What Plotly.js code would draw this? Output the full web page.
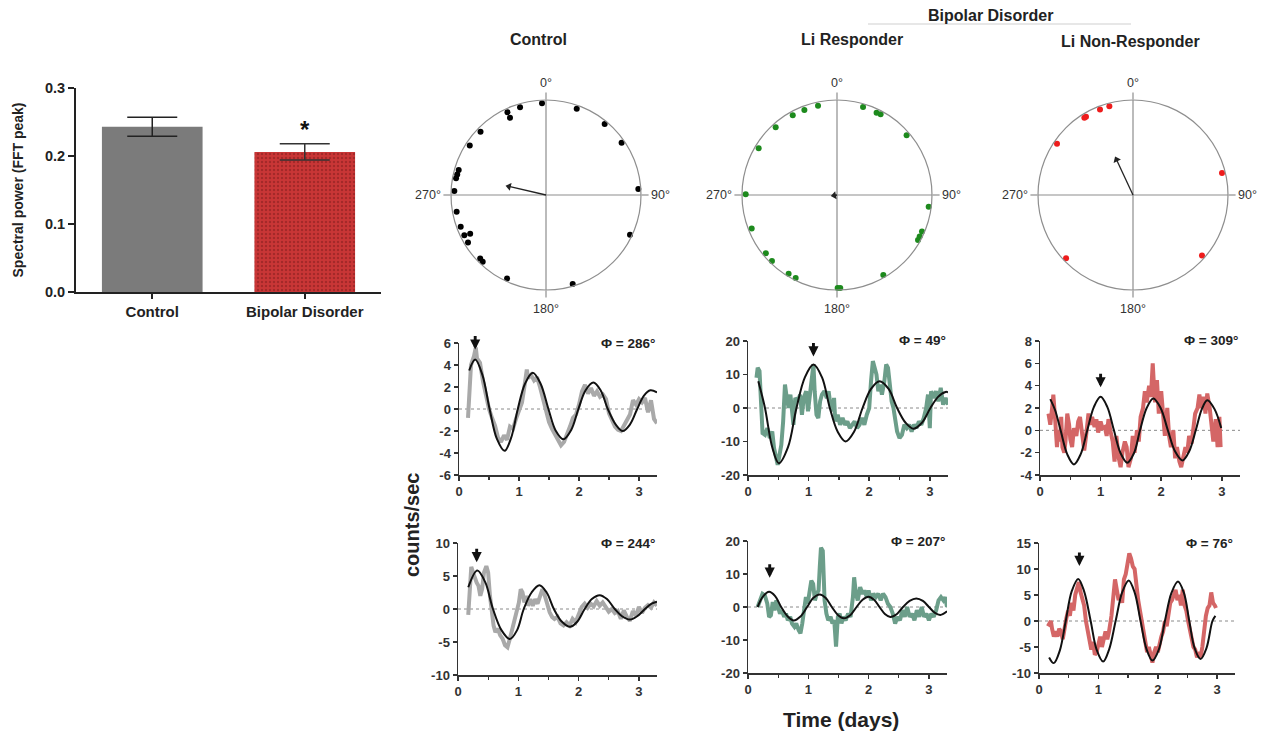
<!DOCTYPE html>
<html><head><meta charset="utf-8">
<script src="https://cdn.plot.ly/plotly-3.0.1.min.js"></script>
<style>html,body{margin:0;padding:0;background:#fff}#chart{width:1265px;height:735px}</style>
</head><body><div id="chart"></div>
<script>
// ================= DATA =================
// Bar chart
const barCategories = ['Control', 'Bipolar Disorder'];
const barValues = [0.243, 0.206];
const barErrors = [0.014, 0.012];
const barTickVals = [0, 0.1, 0.2, 0.3];
const barTickText = ['0.0', '0.1', '0.2', '0.3'];

// Polar phase plots (degrees, 0 = top, clockwise)
const ctrlTheta = [357.5,343.5,335,335,314,303,286,283,280.5,272.5,259.4,249.6,243.7,243,238.6,226,223.5,205,163.3,115.3,86.3,55.3,39.6,19.6];
const ctrlR = [0.966,0.962,0.96,0.897,0.958,0.957,0.956,0.959,0.963,0.966,0.957,0.958,0.959,0.896,0.962,0.963,0.968,0.97,0.978,0.978,0.974,0.968,0.969,0.964];
const liRespTheta = [348,339,331,317.8,300.8,270.4,248.5,230.7,224.6,211.6,206.5,179.6,178,149.9,119,116.7,113.3,97.3,49.4,28.4,25.7,16.5];
const liRespR = [0.961,0.958,0.961,0.961,0.96,0.961,0.965,0.968,0.975,0.972,0.975,0.979,0.979,0.972,0.975,0.974,0.974,0.973,0.965,0.965,0.961,0.965];
const nonRespTheta = [345.1,338.9,329,327.8,304,226.6,131.2,76.1];
const nonRespR = [0.968,0.965,0.961,0.961,0.965,0.97,0.965,0.965];
const meanAngles = [283, 260, 335];
const meanLengths = [0.40, 0.03, 0.41];
const polarTickVals = [0, 90, 180, 270];
const polarTickText = ['0°', '90°', '180°', '270°'];

// Time series (days, counts/sec)
const ctrlTopT = [0.15,0.20,0.25,0.28,0.30,0.35,0.40,0.45,0.50,0.55,0.60,0.65,0.70,0.75,0.80,0.85,0.90,0.95,1.00,1.05,1.10,1.13,1.15,1.20,1.25,1.30,1.35,1.40,1.45,1.50,1.55,1.60,1.65,1.70,1.75,1.80,1.85,1.90,1.95,2.00,2.05,2.10,2.15,2.20,2.25,2.30,2.35,2.40,2.45,2.50,2.55,2.60,2.65,2.70,2.75,2.80,2.85,2.90,2.95,3.00,3.05,3.10,3.15,3.20,3.25,3.30];
const ctrlTopRaw = [-0.8,4.0,4.8,5.6,4.6,4.2,2.5,1.0,0.0,-0.8,-1.5,-2.6,-3.0,-2.4,-2.8,-1.6,-1.8,-0.9,-0.2,0.6,2.4,3.6,2.8,3.1,2.6,2.9,2.0,1.0,0.0,-1.2,-1.8,-2.3,-2.9,-3.3,-3.0,-2.4,-1.6,-0.8,-0.5,0.4,1.6,2.2,1.4,1.9,1.2,1.6,1.1,1.3,0.9,-0.4,-1.0,-1.6,-1.9,-2.0,-1.5,-1.0,-0.5,0.8,0.4,0.9,0.6,1.0,-0.3,0.8,-0.9,-1.3];
const ctrlTopFitT = [0.17,0.27,0.39,0.51,0.63,0.76,0.87,0.98,1.10,1.23,1.36,1.49,1.61,1.74,1.87,1.99,2.11,2.24,2.36,2.48,2.61,2.73,2.85,2.97,3.08,3.19,3.30];
const ctrlTopFit = [3.5,4.5,3.1,0,-2.7,-3.8,-2.6,0,2.3,3.3,2.3,0,-1.95,-2.75,-1.9,0,1.7,2.4,1.7,0,-1.4,-2.0,-1.4,0,1.2,1.7,1.5];

const liTopT = [0.14,0.16,0.19,0.21,0.24,0.28,0.32,0.36,0.40,0.43,0.46,0.49,0.52,0.55,0.58,0.61,0.64,0.67,0.70,0.73,0.75,0.78,0.82,0.86,0.89,0.92,0.96,0.99,1.02,1.05,1.08,1.10,1.13,1.16,1.19,1.22,1.26,1.30,1.33,1.36,1.39,1.42,1.44,1.48,1.52,1.56,1.60,1.64,1.68,1.72,1.76,1.80,1.84,1.88,1.92,1.96,2.00,2.03,2.06,2.09,2.12,2.15,2.18,2.21,2.25,2.28,2.31,2.34,2.37,2.40,2.43,2.46,2.50,2.54,2.58,2.62,2.66,2.70,2.74,2.78,2.82,2.86,2.90,2.94,2.97,3.00,3.02,3.06,3.10,3.14,3.18,3.22,3.26,3.30];
const liTopRaw = [9,12,11,3,-7.5,-8,-6,-9,-7,-12,-15,-17,-14,-11,-4,7,3,0,4,-1,-5,3,2,4,-2,3,5,-1,4,9,13,5,-2,-3,2,4,5,3,5,1,-1,3,-4,-2,-5,-3,-5,-4,-6,-5,-4,-6,-5,-3,-5,-2,0,8,14,12,10,5,7,4,8,13,12,7,2,0,-4,-7,-9,-8,-5,-6,-5,-7,-5,-6,-4,-5,-3,0,4,-6,5,3,5,2,6,1,3,1];
const liTopFitT = [0.17,0.28,0.40,0.51,0.66,0.80,0.94,1.08,1.22,1.35,1.48,1.61,1.75,1.89,2.03,2.17,2.32,2.46,2.60,2.73,2.87,3.01,3.14,3.26,3.30];
const liTopFit = [8,0,-11.7,-16.5,-11.7,0,9.2,13,9.2,0,-7.1,-10,-7.1,0,5.7,8,5.7,0,-4.4,-6.2,-4.4,0,3.4,4.8,4.7];

const nrTopT = [0.14,0.17,0.20,0.22,0.25,0.28,0.30,0.33,0.35,0.37,0.40,0.42,0.45,0.48,0.50,0.53,0.56,0.60,0.63,0.66,0.70,0.73,0.76,0.80,0.83,0.86,0.90,0.93,0.96,1.00,1.03,1.07,1.10,1.13,1.16,1.20,1.23,1.26,1.30,1.33,1.36,1.40,1.43,1.46,1.50,1.53,1.56,1.60,1.63,1.66,1.70,1.73,1.76,1.80,1.83,1.86,1.88,1.90,1.93,1.96,2.00,2.03,2.06,2.10,2.13,2.16,2.20,2.23,2.26,2.30,2.33,2.36,2.40,2.43,2.46,2.50,2.53,2.56,2.60,2.63,2.66,2.70,2.73,2.76,2.80,2.83,2.86,2.90,2.93,2.96,2.98];
const nrTopRaw = [1.5,0.5,2.0,3.2,1.0,-1.5,0.0,-1.0,1.2,-1.5,-2.0,-1.0,1.5,0.5,-0.8,-1.5,0.2,-0.5,0.8,1.2,-0.5,-1.8,-0.5,1.5,0.5,1.2,0.3,1.0,-0.2,0.8,0.2,0.3,-0.5,1.0,0.0,-1.0,-2.8,-0.5,-2.5,-3.3,-2.0,-1.0,-1.5,-3.3,-2.5,-0.5,-2.0,0.0,-1.0,1.2,2.0,3.5,2.5,4.0,3.0,6.0,4.0,2.5,4.5,1.5,3.5,1.0,-0.5,2.0,-0.5,-1.5,0.0,-2.5,-1.5,-2.8,-3.3,-2.5,-1.5,-2.0,-0.5,-1.2,0.3,1.5,2.0,3.2,2.0,3.0,1.5,3.3,2.0,0.5,-1.0,1.0,-1.5,1.2,-1.5];
const nrTopFitT = [0.17,0.25,0.34,0.45,0.56,0.67,0.78,0.89,1.00,1.11,1.22,1.33,1.44,1.55,1.65,1.76,1.87,1.99,2.11,2.23,2.35,2.46,2.57,2.67,2.76,2.88,2.99];
const nrTopFit = [2.8,1.8,0,-2.15,-3.05,-2.15,0,2.1,3.0,2.1,0,-2.05,-2.9,-2.05,0,2.0,2.85,2.0,0,-1.9,-2.7,-1.9,0,1.9,2.7,1.9,0.2];

const ctrlBotT = [0.17,0.19,0.22,0.25,0.28,0.31,0.34,0.37,0.40,0.43,0.47,0.50,0.53,0.56,0.59,0.62,0.66,0.70,0.74,0.78,0.82,0.86,0.90,0.94,0.98,1.01,1.04,1.07,1.10,1.13,1.16,1.20,1.24,1.28,1.32,1.36,1.40,1.44,1.48,1.52,1.56,1.60,1.65,1.70,1.75,1.80,1.85,1.90,1.95,2.00,2.05,2.10,2.15,2.20,2.25,2.30,2.35,2.40,2.45,2.50,2.55,2.60,2.65,2.70,2.75,2.80,2.85,2.90,2.95,3.00,3.05,3.10,3.15,3.20,3.25,3.30];
const ctrlBotRaw = [-0.9,3,6.4,5.5,4.5,4,3.5,2,3,5.5,6.5,5.5,2,-1,-2.5,-3.5,-3,-4,-4.5,-5.5,-5.8,-4.5,-3,-1.5,-0.5,1,3,2.5,1,2,0.5,1.5,0.5,1.5,0.8,2,3,2,0.5,-0.5,-1.2,-1.5,-1.2,-2.2,-2.5,-2,-2.5,-1.5,-2,-1,0.3,0.8,0.2,0.8,0.4,1.2,0.5,1.0,0.2,-0.4,0,-0.6,-0.3,-1.5,-0.2,-1.2,-1.8,-0.3,-1,0.3,-0.6,0.2,0.6,0.2,1.0,0.5];
const ctrlBotFitT = [0.17,0.32,0.45,0.58,0.72,0.86,0.98,1.09,1.22,1.35,1.47,1.59,1.72,1.86,1.98,2.10,2.22,2.35,2.47,2.60,2.72,2.85,2.97,3.10,3.21,3.30];
const ctrlBotFit = [3.3,5.85,4.1,0,-3.2,-4.55,-3.2,0,2.5,3.6,2.5,0,-1.9,-2.7,-1.9,0,1.5,2.1,1.5,0,-1.1,-1.6,-1.1,0,0.8,1.1];

const liBotT = [0.16,0.20,0.24,0.28,0.32,0.35,0.38,0.41,0.44,0.47,0.50,0.53,0.56,0.60,0.63,0.66,0.70,0.73,0.77,0.80,0.84,0.87,0.90,0.93,0.96,0.99,1.02,1.05,1.08,1.11,1.14,1.17,1.19,1.21,1.24,1.27,1.30,1.33,1.37,1.40,1.43,1.46,1.49,1.52,1.55,1.58,1.62,1.66,1.70,1.74,1.76,1.79,1.82,1.86,1.90,1.93,1.97,2.00,2.04,2.08,2.12,2.16,2.20,2.24,2.28,2.32,2.36,2.40,2.44,2.48,2.52,2.56,2.60,2.64,2.68,2.72,2.76,2.80,2.84,2.88,2.92,2.96,3.00,3.04,3.08,3.12,3.16,3.20,3.24,3.27,3.30];
const liBotRaw = [0,2.5,4,3.5,1,-3,-2.5,1.5,-1,2,0,-2,-1,-3,-2,-4,-3,-5,-6,-5,-7,-8,-5,0,3,1,4,8,7,2,4,5,12,18,17,2,-2,-4,-3,-5,-4,-12,-3,-2,-5,-3,-4,-2,-3,3,9,4,2,6,4,5,3,5,2,4,3,4,2,4,3,1,0,-2,-5,-3,-4,-1,-3,0,-3,-2,-4,-1,-3,0,-3,-2,-4,-2,-3,-1,2,3,2,3,0];
const liBotFitT = [0.16,0.25,0.35,0.45,0.55,0.66,0.76,0.87,0.98,1.08,1.19,1.29,1.39,1.49,1.59,1.70,1.80,1.90,2.00,2.09,2.18,2.27,2.36,2.47,2.57,2.68,2.79,2.90,3.00,3.10,3.19,3.30];
const liBotFit = [0,3.2,4.6,3.3,0,-2.9,-4.1,-2.9,0,2.7,3.8,2.7,0,-2.4,-3.4,-2.4,0,2.2,3.1,2.2,0,-2.1,-3.0,-2.1,0,1.85,2.6,1.85,0,-1.8,-2.4,-1.3];

const nrBotT = [0.15,0.18,0.20,0.22,0.25,0.28,0.31,0.34,0.37,0.40,0.43,0.46,0.49,0.52,0.55,0.58,0.61,0.64,0.67,0.70,0.73,0.76,0.79,0.82,0.85,0.88,0.91,0.94,0.97,1.00,1.03,1.06,1.09,1.12,1.15,1.18,1.22,1.25,1.28,1.31,1.34,1.37,1.40,1.43,1.46,1.49,1.52,1.55,1.58,1.61,1.64,1.67,1.70,1.73,1.76,1.79,1.82,1.85,1.88,1.91,1.94,1.97,2.00,2.03,2.06,2.09,2.12,2.15,2.18,2.21,2.24,2.27,2.30,2.33,2.36,2.39,2.42,2.45,2.48,2.51,2.54,2.57,2.60,2.63,2.66,2.69,2.72,2.75,2.78,2.81,2.84,2.87,2.90,2.93,2.96,2.98];
const nrBotRaw = [-1,-0.5,0,-1.5,-3,-2,-3,-1.5,-2,-3.5,-1,0.5,2,1,3.5,2,5,6.5,7.5,5.5,4,3,0,-2,-3,-5.5,-4,-6.5,-6,-4,-3,-5,-3.5,-2,-3.5,-2,1,5,8,6,4,5,3.5,8,9,11,13,12,10.5,10,6,4,2,0,-3,-5,-6,-5,-7,-8,-6,-5,-6,-4,-3,-2,0,-1,2,3.5,4,5,6,4,5,3,6,3,2,0,-2,-4,-5,-5.5,-7,-6,-7,-5,-1,1,2.5,3,5.5,3.5,3,2.5];
const nrBotFitT = [0.17,0.25,0.35,0.45,0.55,0.66,0.76,0.87,0.97,1.08,1.18,1.29,1.40,1.51,1.61,1.71,1.81,1.91,2.02,2.12,2.23,2.34,2.44,2.53,2.62,2.72,2.82,2.92,2.97];
const nrBotFit = [-7,-8.1,-5.7,0,5.7,8.1,5.7,0,-5.5,-7.8,-5.5,0,5.5,7.8,5.5,0,-5.4,-7.6,-5.4,0,5.4,7.6,5.4,0,-5.2,-7.3,-5.2,0,1.0];

// Peak markers (arrows) and acrophase labels
const peakArrowT = [0.27, 1.08, 1.00, 0.31, 0.36, 0.68];
const peakArrowY = [5.4, 15.4, 3.85, 7.1, 8.9, 10.6];
const phaseLabels = ['Φ = 286°', 'Φ = 49°', 'Φ = 309°', 'Φ = 244°', 'Φ = 207°', 'Φ = 76°'];

// y tick values per time-series panel
const ticksCtrlTop = [-6,-4,-2,0,2,4,6];
const ticksLiTop = [-20,-10,0,10,20];
const ticksNrTop = [-4,-2,0,2,4,6,8];
const ticksCtrlBot = [-10,-5,0,5,10];
const ticksLiBot = [-20,-10,0,10,20];
const ticksNrBot = [-10,-5,0,5,10,15];

// ================= LAYOUT =================
const W = 1265, H = 735;
const fx = p => p / W;
const fy = p => 1 - p / H;
const FONT = 'Liberation Sans, Arial, Helvetica, sans-serif';
const AX = '#333333';

const traces = [];
const annotations = [];
const shapes = [];

// --- bar chart ---
traces.push({
  type: 'bar', x: [barCategories[0]], y: [barValues[0]], width: 0.66,
  marker: {color: '#7b7b7b', line: {width: 0}},
  error_y: {type: 'data', array: [barErrors[0]], color: '#222', thickness: 1.5, width: 25},
  xaxis: 'x', yaxis: 'y', hoverinfo: 'skip'
});
traces.push({
  type: 'bar', x: [barCategories[1]], y: [barValues[1]], width: 0.66,
  marker: {color: '#c93636', line: {width: 0},
           pattern: {shape: '.', fillmode: 'overlay', fgcolor: '#7e1c1c', size: 4, solidity: 0.3}},
  error_y: {type: 'data', array: [barErrors[1]], color: '#333', thickness: 1.5, width: 25},
  xaxis: 'x', yaxis: 'y', hoverinfo: 'skip'
});
annotations.push({xref: 'x', yref: 'y', x: barCategories[1], y: barValues[1] + barErrors[1],
  yshift: 14, text: '*', showarrow: false, xanchor: 'center', yanchor: 'middle',
  font: {size: 24, weight: 'bold', color: '#111'}});

// --- polar plots ---
const polarSets = [
  {id: 'polar', theta: ctrlTheta, r: ctrlR, color: '#000000'},
  {id: 'polar2', theta: liRespTheta, r: liRespR, color: '#1d8a1d'},
  {id: 'polar3', theta: nonRespTheta, r: nonRespR, color: '#ee1c1c'}
];
polarSets.forEach((p, i) => {
  traces.push({type: 'scatterpolar', subplot: p.id, r: p.r, theta: p.theta, mode: 'markers',
    marker: {size: 6, color: p.color}, hoverinfo: 'skip', cliponaxis: false});
  traces.push({type: 'scatterpolar', subplot: p.id, r: [0, meanLengths[i]], theta: [meanAngles[i], meanAngles[i]],
    mode: 'lines', line: {color: '#222', width: 1.3}, hoverinfo: 'skip'});
  traces.push({type: 'scatterpolar', subplot: p.id, r: [meanLengths[i]], theta: [meanAngles[i]],
    mode: 'markers', marker: {symbol: 'triangle-up', size: 7, angle: meanAngles[i], color: '#222'}, hoverinfo: 'skip'});
});

function polarLayout(cx) {
  return {
    domain: {x: [fx(cx - 95), fx(cx + 95)], y: [fy(290), fy(100)]},
    bgcolor: 'rgba(0,0,0,0)',
    radialaxis: {visible: false, range: [0, 1]},
    angularaxis: {
      rotation: 90, direction: 'clockwise', tickmode: 'array', tickvals: polarTickVals, ticktext: polarTickText,
      color: '#333333',
      showline: true, linecolor: '#8e8e8e', linewidth: 1.2,
      showgrid: true, gridcolor: '#8e8e8e', gridwidth: 1.2,
      ticks: 'outside', ticklen: 7, tickcolor: '#8e8e8e', tickwidth: 1.2,
      tickfont: {size: 12.5, color: '#333333', family: FONT}
    }
  };
}

// --- time series ---
const panels = [
  {n: 2, t: ctrlTopT, raw: ctrlTopRaw, ft: ctrlTopFitT, fit: ctrlTopFit, color: '#a9a9a9', ticks: ticksCtrlTop, range: [-6, 6], dom: [459, 657, 343, 475]},
  {n: 3, t: liTopT, raw: liTopRaw, ft: liTopFitT, fit: liTopFit, color: '#6c9e8a', ticks: ticksLiTop, range: [-20, 20], dom: [748, 948, 341, 475]},
  {n: 4, t: nrTopT, raw: nrTopRaw, ft: nrTopFitT, fit: nrTopFit, color: '#d46666', ticks: ticksNrTop, range: [-4, 8], dom: [1040, 1240, 341, 475]},
  {n: 5, t: ctrlBotT, raw: ctrlBotRaw, ft: ctrlBotFitT, fit: ctrlBotFit, color: '#a9a9a9', ticks: ticksCtrlBot, range: [-10, 10], dom: [458, 657, 543, 675]},
  {n: 6, t: liBotT, raw: liBotRaw, ft: liBotFitT, fit: liBotFit, color: '#6c9e8a', ticks: ticksLiBot, range: [-20, 20], dom: [748, 947, 541, 673]},
  {n: 7, t: nrBotT, raw: nrBotRaw, ft: nrBotFitT, fit: nrBotFit, color: '#d46666', ticks: ticksNrBot, range: [-10, 15], dom: [1039, 1235, 543, 673]}
];

const layout = {
  width: W, height: H,
  margin: {l: 0, r: 0, t: 0, b: 0},
  paper_bgcolor: '#ffffff', plot_bgcolor: 'rgba(0,0,0,0)',
  showlegend: false, hovermode: false, barmode: 'overlay',
  font: {family: FONT, color: '#222'},
  xaxis: {
    domain: [fx(76), fx(381)], anchor: 'y', type: 'category', range: [-0.5, 1.5],
    showline: true, linecolor: '#222', linewidth: 2, ticks: 'outside', ticklen: 5, tickwidth: 2, tickcolor: '#222',
    tickfont: {size: 15, weight: 'bold', color: '#222'}, showgrid: false, zeroline: false
  },
  yaxis: {
    domain: [fy(292), fy(88)], anchor: 'x', range: [0, 0.3], tickmode: 'array', tickvals: barTickVals, ticktext: barTickText,
    showline: true, linecolor: '#222', linewidth: 2, ticks: 'outside', ticklen: 6, tickwidth: 2, tickcolor: '#222',
    tickfont: {size: 14.5, weight: 'bold', color: '#222'}, showgrid: false, zeroline: false,
    title: {text: 'Spectral power (FFT peak)', font: {size: 14, weight: 'bold', color: '#222'}, standoff: 18}
  },
  polar: polarLayout(546),
  polar2: polarLayout(837),
  polar3: polarLayout(1133),
  annotations: annotations,
  shapes: shapes
};

panels.forEach((p, i) => {
  const xa = 'x' + p.n, ya = 'y' + p.n;
  traces.push({type: 'scatter', mode: 'lines', x: p.t, y: p.raw, xaxis: xa, yaxis: ya,
    line: {color: p.color, width: 4, shape: 'linear'}, hoverinfo: 'skip'});
  traces.push({type: 'scatter', mode: 'lines', x: p.ft, y: p.fit, xaxis: xa, yaxis: ya,
    line: {color: '#111', width: 2, shape: 'spline', smoothing: 1}, hoverinfo: 'skip'});
  layout['xaxis' + p.n] = {
    domain: [fx(p.dom[0]), fx(p.dom[1])], anchor: ya, range: [0, 3.3], dtick: 1, tick0: 0,
    showline: true, linecolor: AX, linewidth: 1.5, ticks: 'outside', ticklen: 4, tickwidth: 1.5, tickcolor: AX,
    minor: {dtick: 0.5, ticks: 'outside', ticklen: 3, tickwidth: 1.2, tickcolor: AX},
    tickfont: {size: 13, weight: 'bold', color: AX}, showgrid: false, zeroline: false
  };
  layout['yaxis' + p.n] = {
    domain: [fy(p.dom[3]), fy(p.dom[2])], anchor: xa, range: p.range, tickmode: 'array',
    tickvals: p.ticks, ticktext: p.ticks.map(String),
    showline: true, linecolor: AX, linewidth: 1.5, ticks: 'outside', ticklen: 4, tickwidth: 1.5, tickcolor: AX,
    tickfont: {size: 13, weight: 'bold', color: AX}, showgrid: false, zeroline: false
  };
  shapes.push({type: 'line', xref: xa + ' domain', yref: ya, x0: 0, x1: 1, y0: 0, y1: 0, layer: 'below',
    line: {color: '#8a8a8a', width: 1, dash: 'dot'}});
  annotations.push({xref: xa + ' domain', yref: ya + ' domain', x: 1, y: 1, xanchor: 'right', yanchor: 'middle',
    text: phaseLabels[i], showarrow: false, font: {size: 13.5, weight: 'bold', color: '#222'}});
  annotations.push({xref: xa, yref: ya, x: peakArrowT[i], y: peakArrowY[i], ax: 0, ay: -15, text: '',
    showarrow: true, arrowhead: 2, arrowsize: 0.7, arrowwidth: 2.9, arrowcolor: '#111'});
});

// headings and shared labels
function label(x, y, text, size, extra) {
  annotations.push(Object.assign({xref: 'paper', yref: 'paper', x: fx(x), y: fy(y), text: text, showarrow: false,
    xanchor: 'center', yanchor: 'middle', font: {size: size, weight: 'bold', color: '#222'}}, extra || {}));
}
label(990, 15, 'Bipolar Disorder', 16);
label(538, 40, 'Control', 16);
label(852, 40, 'Li Responder', 16);
label(1130, 41, 'Li Non-Responder', 16);
label(412, 525, 'counts/sec', 20, {textangle: -90});
label(841, 719, 'Time (days)', 21);
shapes.push({type: 'line', xref: 'paper', yref: 'paper', x0: fx(868), x1: fx(1131), y0: fy(24), y1: fy(24),
  line: {color: '#cfcfcf', width: 1.2}});

Plotly.newPlot('chart', traces, layout, {displayModeBar: false, staticPlot: true});
</script>
</body></html>
